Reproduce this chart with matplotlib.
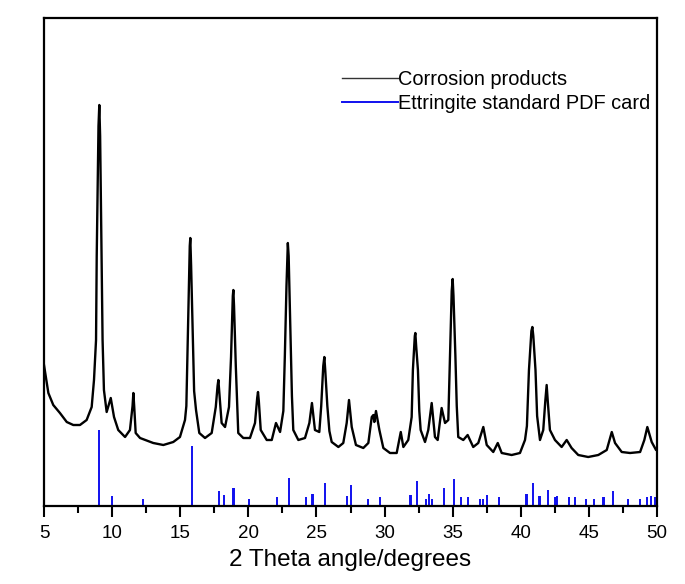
import matplotlib
matplotlib.use("Agg")
import matplotlib.pyplot as plt
from matplotlib.ticker import MultipleLocator

plt.rcParams['font.family'] = ['Liberation Sans', 'DejaVu Sans']

# Measured XRD pattern (2theta in degrees, intensity in arbitrary units)
theta = [5.00, 5.32, 5.68, 6.17, 6.67, 7.15, 7.64, 8.13, 8.50, 8.67, 8.82, 8.87, 9.00, 9.06,
         9.12, 9.23, 9.30, 9.40, 9.60, 9.90, 10.14, 10.45, 10.95, 11.31, 11.50, 11.56, 11.62,
         11.73, 12.05, 13.02, 13.76, 14.49, 14.98, 15.35, 15.45, 15.58, 15.70, 15.74, 15.80,
         15.90, 16.02, 16.16, 16.40, 16.82, 17.31, 17.61, 17.74, 17.80, 17.86, 18.04, 18.29,
         18.58, 18.73, 18.86, 18.90, 18.95, 19.08, 19.26, 19.63, 20.00, 20.12, 20.49, 20.65,
         20.71, 20.77, 20.91, 21.35, 21.72, 22.03, 22.33, 22.57, 22.68, 22.80, 22.90, 22.96,
         23.08, 23.20, 23.30, 23.67, 24.16, 24.48, 24.67, 24.89, 25.21, 25.35, 25.50, 25.58,
         25.65, 25.80, 25.95, 26.12, 26.61, 26.97, 27.22, 27.39, 27.59, 27.90, 28.44, 28.81,
         29.06, 29.18, 29.25, 29.37, 29.62, 29.91, 30.40, 30.89, 31.19, 31.38, 31.74, 31.99,
         32.08, 32.22, 32.26, 32.32, 32.45, 32.55, 32.65, 32.97, 33.21, 33.46, 33.70, 33.90,
         34.19, 34.44, 34.68, 34.80, 34.93, 35.00, 35.06, 35.20, 35.30, 35.41, 35.78, 36.10,
         36.51, 36.88, 37.25, 37.50, 37.98, 38.31, 38.60, 39.33, 39.94, 40.31, 40.45, 40.60,
         40.78, 40.85, 40.92, 41.08, 41.20, 41.41, 41.65, 41.80, 41.90, 41.98, 42.14, 42.51,
         43.00, 43.37, 43.73, 44.22, 44.95, 45.69, 46.31, 46.68, 46.92, 47.41, 48.02, 48.76,
         49.07, 49.29, 49.61, 49.93, 50.00]
intensity = [141, 113, 101, 93, 84, 81, 81, 86, 99, 126, 166, 250, 380, 401,
             370, 250, 166, 116, 94, 108, 89, 76, 69, 76, 100, 113, 100,
             73, 68, 63, 61, 64, 69, 86, 100, 183, 260, 268, 240,
             183, 115, 96, 73, 68, 73, 99, 120, 126, 115, 83, 79,
             99, 149, 210, 216, 200, 140, 73, 68, 68, 68, 83, 108,
             114, 105, 76, 66, 66, 83, 74, 95, 150, 220, 263, 250,
             180, 110, 76, 66, 68, 83, 103, 76, 74, 100, 140, 149,
             135, 100, 75, 64, 59, 63, 83, 106, 79, 61, 58, 63,
             89, 91, 84, 95, 76, 58, 53, 53, 74, 59, 66, 89,
             136, 170, 173, 160, 136, 95, 76, 64, 76, 103, 69, 66,
             98, 83, 86, 150, 215, 227, 210, 150, 100, 69, 66, 71,
             59, 63, 79, 61, 54, 63, 53, 51, 53, 66, 80, 136,
             175, 179, 170, 136, 90, 66, 76, 105, 121, 105, 76, 66,
             59, 66, 58, 51, 49, 51, 56, 74, 63, 54, 53, 54,
             66, 79, 64, 56, 56]

# Ettringite standard PDF card (2theta, relative intensity)
card_theta = [9.06, 9.97, 12.25, 15.84, 17.85, 18.24, 18.90, 18.96, 20.07, 22.10, 22.96,
              24.20, 24.66, 24.74, 25.60, 27.27, 27.52, 28.79, 29.67, 31.90, 31.96, 32.37,
              33.05, 33.27, 33.50, 34.37, 35.10, 35.62, 36.15, 37.00, 37.20, 37.50, 38.43,
              40.40, 40.47, 40.93, 41.34, 41.40, 42.03, 42.48, 42.55, 42.67, 43.53, 44.01,
              44.80, 45.36, 46.04, 46.10, 46.80, 47.85, 48.76, 49.30, 49.55, 49.86]
card_int = [76, 10, 7, 60, 15, 11, 18, 18, 7, 9, 28,
            9, 12, 12, 23, 10, 21, 7, 9, 11, 11, 25,
            7, 12, 7, 18, 27, 9, 9, 7, 7, 11, 9,
            12, 12, 23, 10, 10, 16, 9, 9, 10, 9, 9,
            7, 7, 9, 9, 15, 7, 7, 9, 10, 9]

legend_labels = ['Corrosion products', 'Ettringite standard PDF card']
x_label = '2 Theta angle/degrees'

fig = plt.figure(figsize=(6.85, 5.84), dpi=100)
ax = fig.add_axes([44/685, (584-506)/584, (657-44)/685, (506-18)/584])

l1, = ax.plot(theta, intensity, color='black', lw=1.7, label=legend_labels[0])
ax.vlines(card_theta, 0, card_int, color='#1010ee', lw=1.4)
h1, = ax.plot([], [], color='#333333', lw=1.0)
h2, = ax.plot([], [], color='#1010ee', lw=1.4)

ax.set_xlim(5, 50)
ax.set_ylim(0, 488)
ax.xaxis.set_major_locator(MultipleLocator(5))
ax.xaxis.set_minor_locator(MultipleLocator(2.5))
ax.set_yticks([])
ax.tick_params(axis='x', which='major', direction='out', length=8, width=1.5,
               labelsize=13.5, pad=6)
ax.tick_params(axis='x', which='minor', direction='out', length=5, width=1.5)
for s in ax.spines.values():
    s.set_linewidth(1.6)
ax.set_xlabel(x_label, fontsize=17.5, labelpad=5)

leg = ax.legend(handles=[h1, h2], labels=legend_labels, loc='upper left',
                bbox_to_anchor=(0.4857, 0.893),
                frameon=False, fontsize=14.4, handlelength=2.8, handletextpad=0.0,
                borderpad=0, borderaxespad=0, labelspacing=0.25)

fig.savefig('out.png', dpi=100)
